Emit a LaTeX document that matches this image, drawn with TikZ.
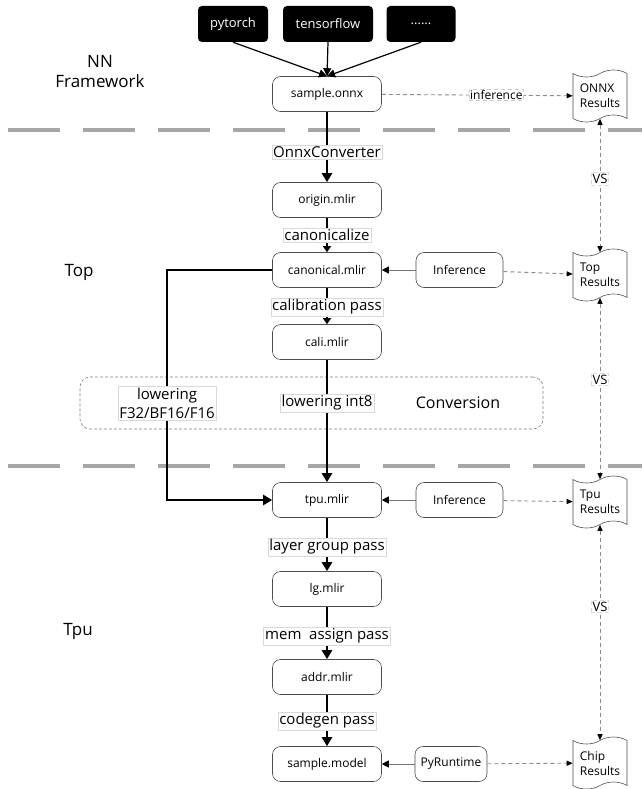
\documentclass[tikz,border=0pt]{standalone}
\usepackage{fontspec}
\setmainfont{Open Sans}
\usetikzlibrary{arrows.meta,shapes.symbols}
\begin{document}
\begin{tikzpicture}[x=1pt,y=-1pt,
  proc/.style={draw=black!70, rounded corners=8pt, fill=white, minimum width=109pt, minimum height=35pt, inner sep=2pt, font=\fontsize{12}{14}\selectfont, line width=0.6pt},
  blk/.style={fill=black, text=white, rounded corners=4pt, minimum height=36pt, font=\fontsize{13}{15}\selectfont},
  lbl/.style={fill=white, draw=black!15, inner sep=1.5pt, font=\fontsize{15}{19}\selectfont},
  vslbl/.style={fill=white, draw=black!15, inner sep=1.5pt, font=\fontsize{13}{15}\selectfont},
  doc/.style={tape, draw=black!70, fill=white, tape bend top=in and out, tape bend bottom=in and out, tape bend height=7pt, minimum width=54pt, minimum height=52pt, align=left, font=\fontsize{12}{15}\selectfont, inner sep=2pt, line width=0.6pt},
  sep/.style={draw=black!35, line width=4pt, dash pattern=on 52pt off 23pt},
  mainarr/.style={line width=2.6pt, -{Triangle[length=9pt,width=10pt]}},
  thinarr/.style={line width=1.8pt, -{Triangle[length=6pt,width=8pt]}},
  inarr/.style={draw=black!55, line width=0.9pt, -{Triangle[length=7pt,width=7pt,color=black]}},
  dasharr/.style={draw=black!45, dash pattern=on 4pt off 3pt, line width=0.9pt, -{Triangle[length=6pt,width=5pt,color=black]}},
  vsarr/.style={draw=black!45, dash pattern=on 4pt off 3pt, line width=0.9pt, {Triangle[length=6pt,width=5pt,color=black]}-{Triangle[length=6pt,width=5pt,color=black]}},
  side/.style={font=\fontsize{17}{20}\selectfont, align=center}
]
\useasboundingbox[fill=white] (0,0) rectangle (642,789);

% separators
\draw[sep] (8,130) -- (642,130);
\draw[sep] (8,466) -- (642,466);

% side titles
\node[side] (tnn) at (100,72) {NN\\Framework};
\node[side] (ttop) at (79,272) {Top};
\node[side] (ttpu) at (78,631) {Tpu};

% conversion box
\node[draw=black!50, dash pattern=on 3pt off 2pt, rounded corners=10pt, minimum width=463pt, minimum height=52pt, line width=0.6pt] (conv) at (311.5,403) {};
\node[font=\fontsize{16}{19}\selectfont] (convt) at (458,403) {Conversion};

% frameworks
\node[blk, minimum width=70pt] (pt) at (233,24) {pytorch};
\node[blk, minimum width=90pt] (tf) at (328,24) {tensorflow};
\node[blk, minimum width=69pt] (etc) at (421,24) {......};

% main column
\node[proc] (onnx) at (327,94) {sample.onnx};
\node[proc] (origin) at (327,200) {origin.mlir};
\node[proc] (canon) at (327,270) {canonical.mlir};
\node[proc] (cali) at (327,342) {cali.mlir};
\node[proc] (tpu) at (327,500) {tpu.mlir};
\node[proc] (lg) at (327,589) {lg.mlir};
\node[proc] (addr) at (327,677) {addr.mlir};
\node[proc] (model) at (327,764) {sample.model};

\node[proc, minimum width=87pt] (inf1) at (459.5,270) {Inference};
\node[proc, minimum width=87pt] (inf2) at (459.5,500) {Inference};
\node[proc, minimum width=72pt] (pyrt) at (451,764) {PyRuntime};

% result documents
\node[doc] (onnxr) at (600,96) {ONNX\\Results};
\node[doc] (topr) at (600,275) {Top\\Results};
\node[doc] (tpur) at (600,502) {Tpu\\Results};
\node[doc] (chipr) at (600,763) {Chip\\Results};

% framework arrows
\draw[line width=1.2pt, -{Triangle[length=8pt,width=8pt]}] (pt.south) -- (onnx.north);
\draw[line width=1.2pt, -{Triangle[length=8pt,width=8pt]}] (tf.south) -- (onnx.north);
\draw[line width=1.2pt, -{Triangle[length=8pt,width=8pt]}] (etc.south) -- (onnx.north);

% main flow
\draw[mainarr] (onnx) -- (origin);
\draw[thinarr] (origin) -- (canon);
\draw[thinarr] (canon) -- (cali);
\draw[mainarr] (cali) -- (tpu);
\coordinate (lp) at (167,270);
\draw[mainarr] (canon.west) -- (lp) |- (tpu.west);
\draw[mainarr] (tpu) -- (lg);
\draw[mainarr] (lg) -- (addr);
\draw[mainarr] (addr) -- (model);

% inference arrows
\draw[inarr] (inf1) -- (canon);
\draw[inarr] (inf2) -- (tpu);
\draw[inarr] (pyrt) -- (model);
\draw[dasharr] (onnx) -- node[fill=white, draw=black!20, inner sep=1pt, font=\fontsize{12}{14}\selectfont, pos=0.6] (infl) {inference} (onnxr);
\draw[dasharr] (inf1) -- (topr);
\draw[dasharr] (inf2) -- (tpur);
\draw[dasharr] (pyrt) -- (chipr);

% VS arrows
\draw[vsarr] (onnxr.south) -- node[vslbl, pos=0.45] (vs1) {VS} (topr.north);
\draw[vsarr] (topr.south) -- node[vslbl, pos=0.45] (vs2) {VS} (tpur.north);
\draw[vsarr] (tpur.south) -- node[vslbl, pos=0.38] (vs3) {VS} (chipr.north);

% edge labels
\node[lbl] (l1) at (327,152) {OnnxConverter};
\node[lbl] (l2) at (327,235) {canonicalize};
\node[lbl] (l3) at (327,307) {calibration pass};
\node[lbl] (l4) at (327,403) {lowering int8};
\node[lbl, align=center] (l5) at (167,403) {lowering\\F32/BF16/F16};
\node[lbl] (l6) at (327,547) {layer group pass};
\node[lbl] (l7) at (327,636) {mem~~assign pass};
\node[lbl] (l8) at (327,721) {codegen pass};
\end{tikzpicture}
\end{document}
